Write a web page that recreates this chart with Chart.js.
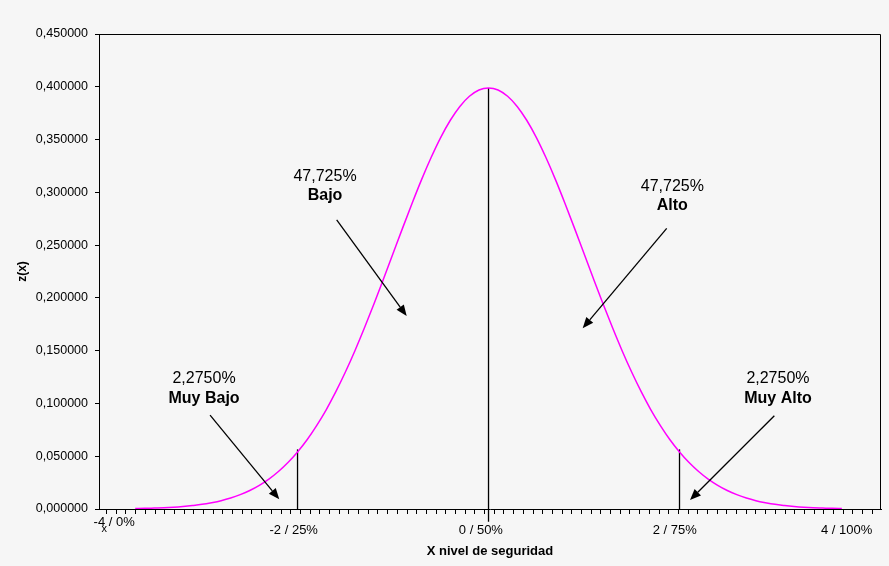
<!DOCTYPE html>
<html><head><meta charset="utf-8">
<script src="https://cdn.jsdelivr.net/npm/chart.js@4.4.1/dist/chart.umd.min.js"></script>
<style>
html,body{margin:0;padding:0;background:#f6f6f6;}
#wrap{width:889px;height:566px;position:relative;}
</style>
</head><body><div id="wrap"><canvas id="c"></canvas></div>
<script>
// ---- data ----
const zX = [-3.7,-3.6,-3.5,-3.4,-3.3,-3.2,-3.1,-3.0,-2.9,-2.8,-2.7,-2.6,-2.5,-2.4,-2.3,-2.2,-2.1,-2.0,-1.9,-1.8,-1.7,-1.6,-1.5,-1.4,-1.3,-1.2,-1.1,-1.0,-0.9,-0.8,-0.7,-0.6,-0.5,-0.4,-0.3,-0.2,-0.1,0.0,0.1,0.2,0.3,0.4,0.5,0.6,0.7,0.8,0.9,1.0,1.1,1.2,1.3,1.4,1.5,1.6,1.7,1.8,1.9,2.0,2.1,2.2,2.3,2.4,2.5,2.6,2.7,2.8,2.9,3.0,3.1,3.2,3.3,3.4,3.5,3.6,3.7];
const zY = [0.0004,0.0006,0.0009,0.0012,0.0017,0.0024,0.0033,0.0044,0.0060,0.0079,0.0104,0.0136,0.0175,0.0224,0.0283,0.0355,0.0440,0.0540,0.0656,0.0790,0.0940,0.1109,0.1295,0.1497,0.1714,0.1942,0.2179,0.2420,0.2661,0.2897,0.3123,0.3332,0.3521,0.3683,0.3814,0.3910,0.3970,0.3989,0.3970,0.3910,0.3814,0.3683,0.3521,0.3332,0.3123,0.2897,0.2661,0.2420,0.2179,0.1942,0.1714,0.1497,0.1295,0.1109,0.0940,0.0790,0.0656,0.0540,0.0440,0.0355,0.0283,0.0224,0.0175,0.0136,0.0104,0.0079,0.0060,0.0044,0.0033,0.0024,0.0017,0.0012,0.0009,0.0006,0.0004];

const markerX = [-2, 0, 2];
const markerTop = [0.0565, 0.3989, 0.0565];
const markerBottom = [0, -0.012, 0];

const xTickLabels = ['-4 / 0%', '-2 / 25%', '0 / 50%', '2 / 75%', '4 / 100%'];
const xTickLabelPos = [-3.92, -2.04, -0.08, 1.95, 3.75];
const xMinorStart = -4, xMinorStep = 0.1015, xMinorCount = 80;

const notePct = ['47,725%', '47,725%', '2,2750%', '2,2750%'];
const noteName = ['Bajo', 'Alto', 'Muy Bajo', 'Muy Alto'];
const noteX = [-1.712, 1.925, -2.979, 3.031];
const notePctY = [0.3109, 0.3014, 0.1192, 0.1192];
const noteNameY = [0.2932, 0.2834, 0.1002, 0.1002];
const arrowFrom = [[-1.590, 0.2738], [1.866, 0.2659], [-2.916, 0.0890], [2.993, 0.0884]];
const arrowTo = [[-0.857, 0.1828], [0.986, 0.1712], [-2.191, 0.0092], [2.110, 0.0085]];

const FONT = "'Liberation Sans', Arial, sans-serif";

const curve = zX.map((x, i) => ({x: x, y: zY[i]}));
const markerSets = markerX.map((x, i) => ({
  data: [{x: x, y: markerBottom[i]}, {x: x, y: markerTop[i]}],
  borderColor: '#000', borderWidth: 1.3, pointRadius: 0, clip: false, showLine: true
}));

const decoPlugin = {
  id: 'deco',
  afterDatasetsDraw(chart) {
    const ctx = chart.ctx, a = chart.chartArea;
    const xs = chart.scales.x, ys = chart.scales.y;
    ctx.save();
    // plot box (top & right)
    ctx.strokeStyle = '#000'; ctx.lineWidth = 1;
    ctx.beginPath();
    ctx.moveTo(Math.round(a.left) + 0.5, Math.round(a.top) + 0.5);
    ctx.lineTo(Math.round(a.right) - 0.5, Math.round(a.top) + 0.5);
    ctx.lineTo(Math.round(a.right) - 0.5, Math.round(a.bottom));
    ctx.stroke();
    // notes
    ctx.fillStyle = '#000';
    ctx.textAlign = 'center'; ctx.textBaseline = 'alphabetic';
    for (let i = 0; i < notePct.length; i++) {
      const px = xs.getPixelForValue(noteX[i]);
      ctx.font = '16px ' + FONT;
      ctx.fillText(notePct[i], px, ys.getPixelForValue(notePctY[i]));
      ctx.font = 'bold 16px ' + FONT;
      ctx.fillText(noteName[i], px, ys.getPixelForValue(noteNameY[i]));
      // arrow
      const x1 = xs.getPixelForValue(arrowFrom[i][0]), y1 = ys.getPixelForValue(arrowFrom[i][1]);
      const x2 = xs.getPixelForValue(arrowTo[i][0]), y2 = ys.getPixelForValue(arrowTo[i][1]);
      const ang = Math.atan2(y2 - y1, x2 - x1);
      const L = 11, W = 4.5;
      const bx = x2 - L * Math.cos(ang), by = y2 - L * Math.sin(ang);
      ctx.strokeStyle = '#000'; ctx.lineWidth = 1.3;
      ctx.beginPath(); ctx.moveTo(x1, y1); ctx.lineTo(bx, by); ctx.stroke();
      ctx.beginPath();
      ctx.moveTo(x2, y2);
      ctx.lineTo(bx + W * Math.sin(ang), by - W * Math.cos(ang));
      ctx.lineTo(bx - W * Math.sin(ang), by + W * Math.cos(ang));
      ctx.closePath(); ctx.fill();
    }
    // first x label (raised) and small "x"
    ctx.font = '13px ' + FONT;
    ctx.fillText(xTickLabels[0], xs.getPixelForValue(xTickLabelPos[0]), a.bottom + 17);
    ctx.font = '11px ' + FONT;
    ctx.fillText('x', xs.getPixelForValue(xTickLabelPos[0]) - 10, a.bottom + 23);
    ctx.restore();
  }
};

new Chart(document.getElementById('c'), {
  type: 'scatter',
  data: {
    datasets: [
      {data: curve, showLine: true, borderColor: '#ff00ff', borderWidth: 1.5, pointRadius: 0, cubicInterpolationMode: 'monotone'}
    ].concat(markerSets)
  },
  options: {
    responsive: true, maintainAspectRatio: false, animation: false,
    layout: {padding: {top: 34, right: 8, left: 0, bottom: 0}},
    plugins: {legend: {display: false}, tooltip: {enabled: false}},
    scales: {
      x: {
        type: 'linear', min: -4.079, max: 4.11,
        afterBuildTicks(scale) {
          const t = [];
          for (let k = 0; k < xMinorCount; k++) t.push({value: xMinorStart + k * xMinorStep, lbl: ''});
          for (let i = 1; i < xTickLabels.length; i++) t.push({value: xTickLabelPos[i], lbl: xTickLabels[i]});
          t.sort((p, q) => p.value - q.value);
          scale.ticks = t;
        },
        afterFit(scale) { scale.height = 57; },
        ticks: {
          autoSkip: false, maxRotation: 0, minRotation: 0, padding: 9,
          color: '#000', font: {family: FONT, size: 13},
          callback(v, i, ticks) { return ticks[i].lbl; }
        },
        grid: {
          drawOnChartArea: false, drawTicks: true, tickLength: 5,
          tickColor: (c) => (c.tick && c.tick.lbl) ? 'rgba(0,0,0,0)' : '#000'
        },
        border: {color: '#000', width: 1},
        title: {display: true, text: 'X nivel de seguridad', color: '#000',
          font: {family: FONT, size: 13, weight: 'bold'}, padding: {top: 0, bottom: 7}}
      },
      y: {
        min: 0, max: 0.45,
        afterFit(scale) { scale.width = 99; },
        ticks: {
          stepSize: 0.05, padding: 7, color: '#000', font: {family: FONT, size: 12.5},
          callback(v) { return v.toFixed(6).replace('.', ','); }
        },
        grid: {drawOnChartArea: false, drawTicks: true, tickLength: 4, tickColor: '#000'},
        border: {color: '#000', width: 1},
        title: {display: true, text: 'z(x)', color: '#000',
          font: {family: FONT, size: 12, weight: 'bold'}, padding: {top: 15, bottom: 0}}
      }
    }
  },
  plugins: [decoPlugin]
});
</script>
</body></html>
